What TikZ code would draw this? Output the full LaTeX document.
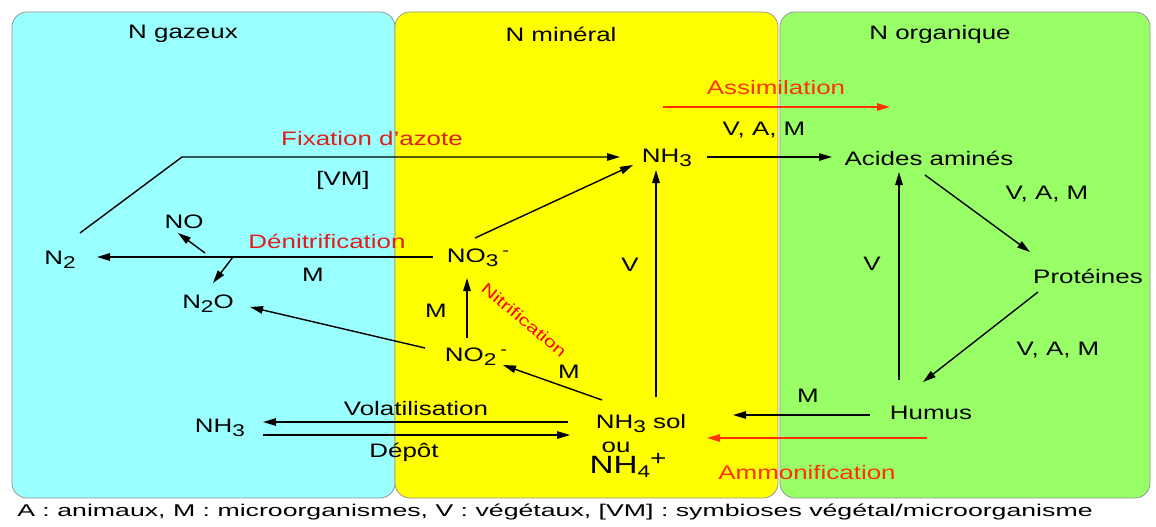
\documentclass[tikz,border=0pt]{standalone}
\usepackage{fontspec}
\setmainfont{Liberation Sans}[FakeStretch=1.33]
\newfontfamily\legfont{Liberation Sans}[FakeStretch=1.57]
\usetikzlibrary{arrows.meta,calc}
\definecolor{cyanbg}{RGB}{153,255,255}
\definecolor{yellowbg}{RGB}{255,255,0}
\definecolor{greenbg}{RGB}{153,255,102}
\definecolor{panelline}{RGB}{150,150,150}
\definecolor{redtxt}{RGB}{225,30,30}
\definecolor{orangered}{RGB}{255,50,0}
\newcommand\dn[1]{\raisebox{-4pt}{\fontsize{17}{17}\selectfont #1}}
\newcommand\mn{\hspace{4pt}\raisebox{7pt}{\fontsize{15}{15}\selectfont -}}
\begin{document}
\begin{tikzpicture}[x=1pt,y=-1pt,
  lbl/.style={font=\fontsize{19.5}{22}\selectfont, inner sep=0pt, anchor=center},
  rlbl/.style={lbl, text=redtxt},
  olbl/.style={lbl, text=orangered},
  arr/.style={line width=1.4pt, -{Triangle[length=13pt,width=7.5pt]}},
  oarr/.style={arr, draw=orangered, fill=orangered},
  panel/.style={draw=panelline, line width=0.8pt, rounded corners=15pt}]
\useasboundingbox (0,0) rectangle (1156,527);
% panels
\path[panel, fill=cyanbg] (12,12) rectangle (395,498);
\path[panel, fill=yellowbg] (395,12) rectangle (778,498);
\path[panel, fill=greenbg] (780,12) rectangle (1150,498);
% titles
\node[lbl] (t1) at (183,34) {N gazeux};
\node[lbl] (t2) at (561,34) {N minéral};
\node[lbl] (t3) at (940,34) {N organique};
% species
\node[lbl] (n2) at (60,260) {N\dn{2}};
\node[lbl] (no) at (184,222) {NO};
\node[lbl] (n2o) at (208,304) {N\dn{2}O};
\node[lbl] (no3) at (478,258) {NO\dn{3}\mn};
\node[lbl] (no2) at (476,357) {NO\dn{2}\mn};
\node[lbl] (nh3t) at (667,158) {NH\dn{3}};
\node[lbl] (acides) at (929,158) {Acides aminés};
\node[lbl] (prot) at (1088,276) {Protéines};
\node[lbl] (humus) at (931,413) {Humus};
\node[lbl] (nhsol) at (641,424) {NH\dn{3} sol};
\node[lbl] (ou) at (616,447) {ou};
\node[lbl, font=\fontsize{25}{27}\selectfont] (nh4) at (628,465) {NH\dn{4}\raisebox{8pt}{\fontsize{21}{21}\selectfont +}};
\node[lbl] (nh3l) at (220,428) {NH\dn{3}};
% labels
\node[olbl] (assim) at (776,88) {Assimilation};
\node[lbl] (vam1) at (764,130) {V, A, M};
\node[rlbl] (fix) at (372,139) {Fixation d'azote};
\node[lbl] (vm) at (343,180) {[VM]};
\node[rlbl] (denit) at (327,241) {Dénitrification};
\node[lbl] (mden) at (313,275) {M};
\node[lbl] (mno) at (436,311) {M};
\node[lbl, text=red, font=\fontsize{16}{18}\selectfont, rotate=-40] (nitr) at (524,320) {Nitrification};
\node[lbl] (mno2) at (569,372) {M};
\node[lbl] (v1) at (630,265) {V};
\node[lbl] (volat) at (416,409) {Volatilisation};
\node[lbl] (depot) at (404,452) {Dépôt};
\node[olbl] (ammon) at (807,473) {Ammonification};
\node[lbl] (mhum) at (808,396) {M};
\node[lbl] (v2) at (872,264) {V};
\node[lbl] (vam2) at (1047,194) {V, A, M};
\node[lbl] (vam3) at (1058,350) {V, A, M};
\node[inner sep=0pt, font={\legfont\fontsize{17}{19}\selectfont}] (legend) at (555,512)
  {A : animaux, M : microorganismes, V : végétaux, [VM] : symbioses végétal/microorganisme};
% connectors
\coordinate (fixbend) at (182,157);
\draw[arr] ($(n2)+(20,-27)$) -- (fixbend) -- ($(nh3t)+(-47,-1)$);
\draw[arr] ($(nh3t)+(40,-1)$) -- ($(acides)+(-97,-1)$);
\draw[oarr] ($(assim)+(-113,19)$) -- ($(assim)+(114,19)$);
\draw[arr] ($(no3)+(-45,-1)$) -- ($(n2)+(37,-3)$);
\coordinate (brno) at (205,253);
\coordinate (brn2o) at (233,257);
\draw[arr] (brno) -- ($(no)+(-6,11)$);
\draw[arr] (brn2o) -- ($(n2o)+(5,-21)$);
\draw[arr] ($(no2)+(-51,-9)$) -- ($(n2o)+(42,3)$);
\draw[arr] ($(no2)+(-9,-19)$) -- ($(no3)+(-11,20)$);
\draw[arr] ($(nhsol)+(-39,-24)$) -- ($(no2)+(27,8)$);
\draw[arr] ($(no3)+(-3,-20)$) -- ($(nh3t)+(-34,7)$);
\draw[arr] ($(nhsol)+(15,-27)$) -- ($(nh3t)+(-11,12)$);
\draw[arr] ($(nhsol)+(-73,-2)$) -- ($(nh3l)+(43,-6)$);
\draw[arr] ($(nh3l)+(43,7)$) -- ($(nhsol)+(-71,11)$);
\draw[arr] ($(humus)+(-61,2)$) -- ($(nhsol)+(92,-9)$);
\draw[oarr] ($(humus)+(-4,25)$) -- ($(nhsol)+(66,14)$);
\draw[arr] ($(humus)+(-32,-33)$) -- ($(acides)+(-30,14)$);
\draw[arr] ($(acides)+(-4,17)$) -- ($(prot)+(-58,-24)$);
\draw[arr] ($(prot)+(-50,16)$) -- ($(humus)+(-8,-31)$);
\end{tikzpicture}
\end{document}
